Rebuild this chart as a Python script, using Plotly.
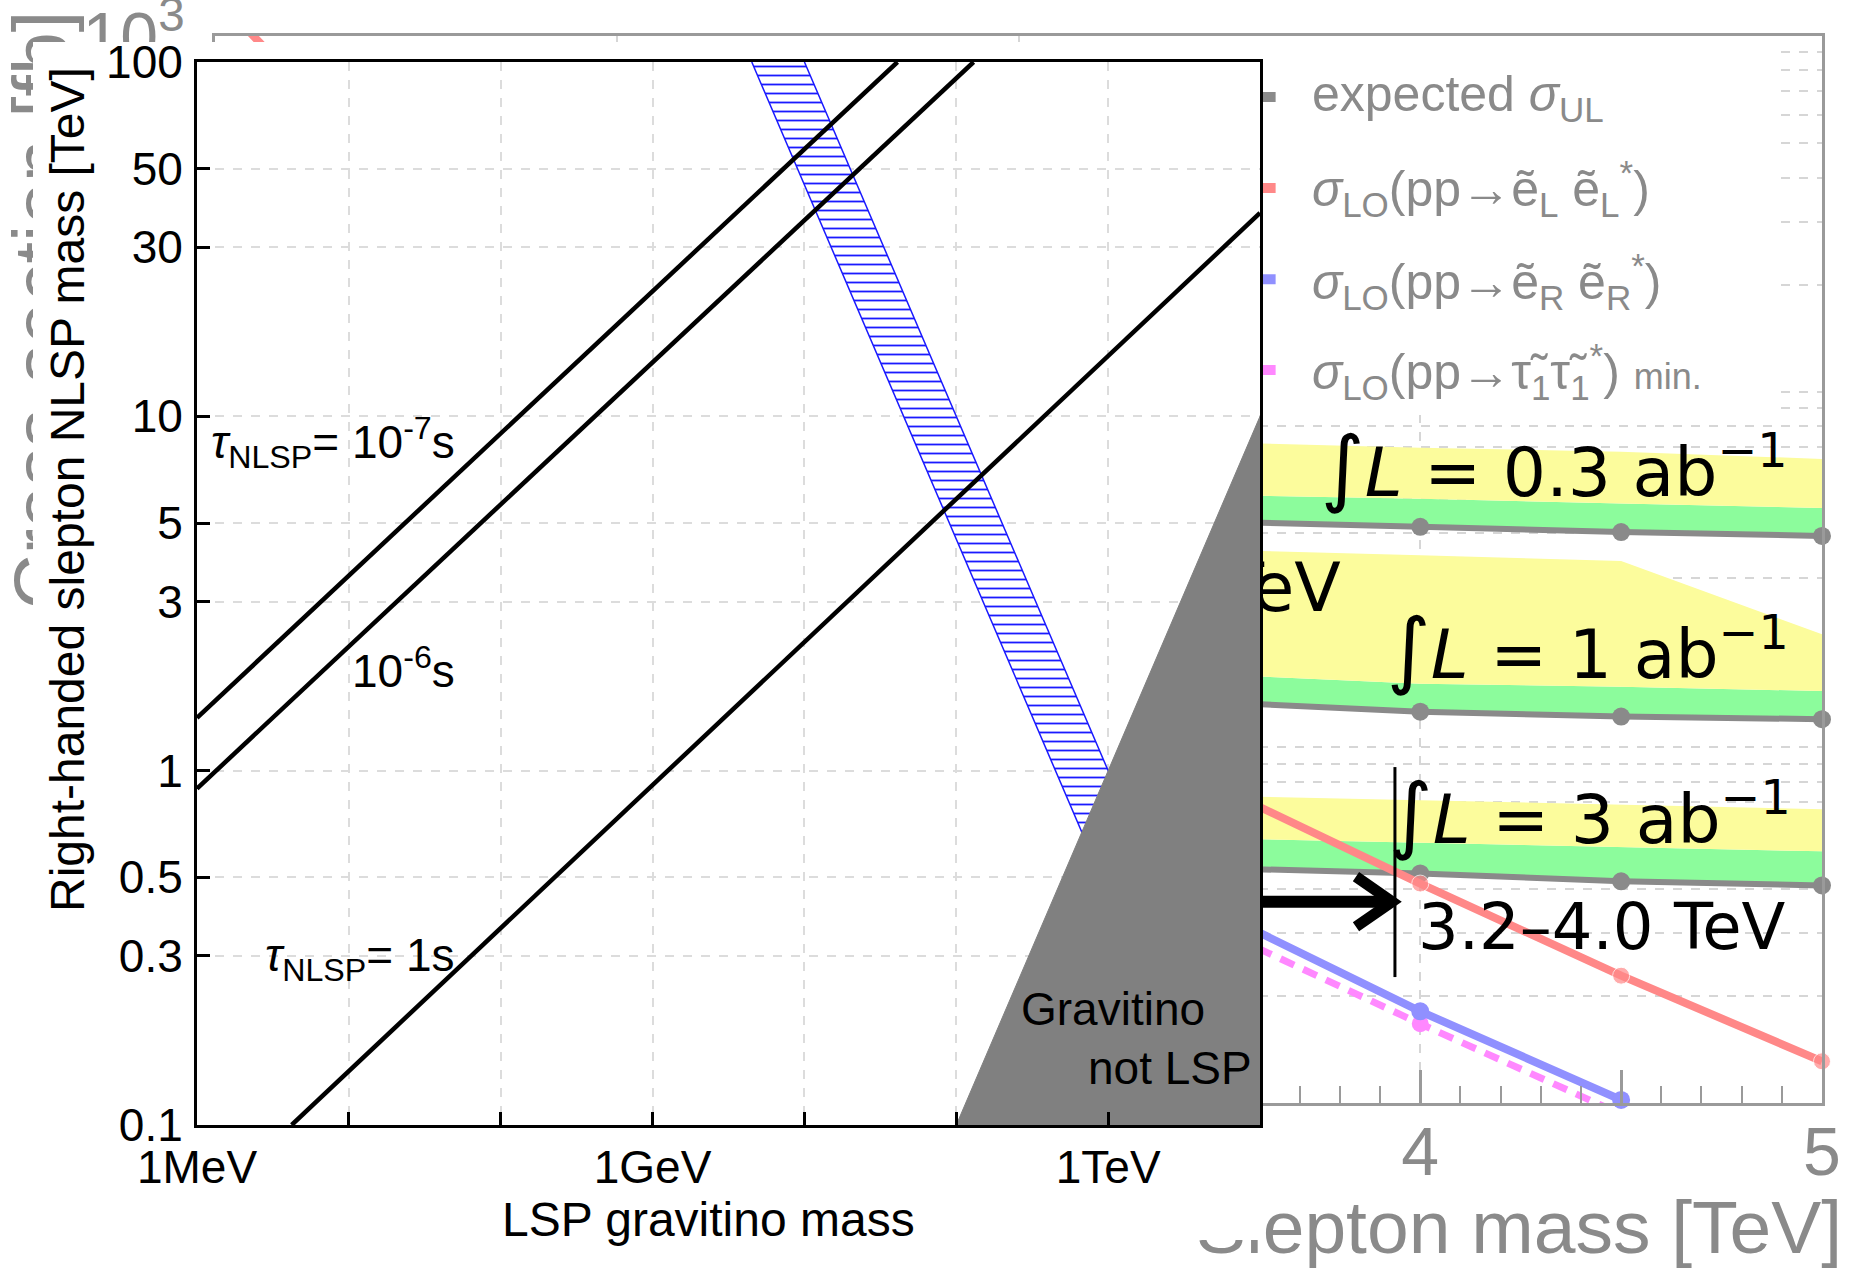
import plotly.graph_objects as go

W, H = 1852, 1269

# ---------------- cross-section panel (drawn behind) ----------------
slepton_mass = [1.0, 1.5, 2.0, 2.5, 3.0, 3.5, 4.0, 4.5, 5.0]            # TeV
xsec_eL = [1300, 330, 110, 42, 17.5, 7.7, 4.14, 2.28, 1.31]             # fb
slepton_mass_R = [1.0, 1.5, 2.0, 2.5, 3.0, 3.5, 4.0, 4.5]
xsec_eR = [430, 120, 40, 16, 7.0, 3.42, 1.81, 1.02]
xsec_stau_min = [385, 107, 36, 14.3, 6.25, 3.06, 1.67, 0.93]

ul_mass = [3.0, 3.5, 4.0, 4.5, 5.0]
ul_03 = [44.5, 43.2, 41.7, 40.3, 39.3]
ul_03_1s = [52.5, 51.2, 50.0, 48.5, 47.1]
ul_03_2s = [73.5, 72.0, 69.6, 67.8, 64.7]
ul_1 = [14.2, 13.4, 12.6, 12.2, 12.0]
ul_1_1s = [16.8, 16.0, 15.1, 14.8, 14.4]
ul_1_2s = [36.5, 35.9, 34.7, 33.4, 20.8]
ul_3 = [4.8, 4.57, 4.42, 4.2, 4.09]
ul_3_1s = [5.7, 5.55, 5.4, 5.25, 5.1]
ul_3_2s = [7.6, 7.3, 7.1, 6.9, 6.7]

limit_mass = [3.937, 3.937]
limit_xsec = [2.26, 8.8]
arrow_shaft_x = [3.3, 3.925]
arrow_shaft_y = [3.68, 3.68]
arrow_head_x = [3.84, 3.93, 3.84]
arrow_head_y = [4.33, 3.68, 3.13]

legend_panel_x = [3.3, 4.895, 4.895, 3.3]
legend_panel_y = [1000, 1000, 86, 86]
legend_key_x = [3.3, 3.64]
legend_key_y = [674, 374, 207, 115]

bg_xticks = [1, 2, 3, 4, 5]
bg_xticks_half = [1.5, 2.5, 3.5, 4.5]
bg_ygrid = [m * 10 ** e for e in range(3) for m in range(1, 10)] + [1000]
bg_ylabels = {1: "1", 10: "10", 100: "10<sup>2</sup>", 1000: "10<sup>3</sup>"}

# ---------------- gravitino / NLSP panel (front) ----------------
tau_m7_gravitino = [1e-3, 41]          # GeV
tau_m7_nlsp = [1.41, 100]              # TeV
tau_m6_gravitino = [1e-3, 130]
tau_m6_nlsp = [0.89, 100]
tau_1s_gravitino = [4.2e-3, 1e4]
tau_1s_nlsp = [0.1, 37.5]

band_nlsp = [100, 0.1]
band_gravitino_lo = [4.5, 4500]
band_gravitino_hi = [10, 10000]

not_lsp_gravitino = [100, 1e4, 1e4]
not_lsp_nlsp = [0.1, 10, 0.1]

fg_xticks = [1e-3, 1e-2, 1e-1, 1, 10, 100, 1e3, 1e4]
fg_xticktext = ["1MeV", "", "", "1GeV", "", "", "1TeV", ""]
fg_yticks = [0.1, 0.3, 0.5, 1, 3, 5, 10, 30, 50, 100]
fg_yticktext = ["0.1", "0.3", "0.5", "1", "3", "5", "10", "30", "50", "100"]

LIB = "Liberation Sans, Arial, sans-serif"
DJ = "DejaVu Sans, sans-serif"
GRAY_TXT = "#8a8a8a"
AX_GRAY = "#9a9a9a"
GRID_BG = "#d6d6d6"
RED = "#ff8888"
BLUE = "#9090ff"
MAGENTA = "#ff88ff"
UL_GRAY = "#8a8a8a"
YELLOW = "#fcfc9c"
GREEN = "#8cfc9c"

fig = go.Figure()

# legend panel hides the grid behind the legend entries
fig.add_trace(go.Scatter(x=legend_panel_x, y=legend_panel_y, fill="toself",
                         fillcolor="white", mode="lines", line=dict(width=0)))

# expected-limit bands
for med, s1, s2 in [(ul_03, ul_03_1s, ul_03_2s), (ul_1, ul_1_1s, ul_1_2s),
                    (ul_3, ul_3_1s, ul_3_2s)]:
    fig.add_trace(go.Scatter(x=ul_mass, y=med, mode="lines", line=dict(width=0)))
    fig.add_trace(go.Scatter(x=ul_mass, y=s1, mode="lines", line=dict(width=0),
                             fill="tonexty", fillcolor=GREEN))
    fig.add_trace(go.Scatter(x=ul_mass, y=s2, mode="lines", line=dict(width=0),
                             fill="tonexty", fillcolor=YELLOW))

for med in [ul_03, ul_1, ul_3]:
    fig.add_trace(go.Scatter(x=ul_mass, y=med, mode="lines+markers",
                             line=dict(color=UL_GRAY, width=6),
                             marker=dict(size=18, color=UL_GRAY), cliponaxis=False))

fig.add_trace(go.Scatter(x=slepton_mass_R, y=xsec_stau_min, mode="lines+markers",
                         line=dict(color=MAGENTA, width=7, dash="15px,10px"),
                         marker=dict(size=17, color=MAGENTA), cliponaxis=True))
fig.add_trace(go.Scatter(x=slepton_mass_R, y=xsec_eR, mode="lines+markers",
                         line=dict(color=BLUE, width=8),
                         marker=dict(size=18, color=BLUE), cliponaxis=False))
fig.add_trace(go.Scatter(x=slepton_mass, y=xsec_eL, mode="lines+markers",
                         line=dict(color=RED, width=8),
                         marker=dict(size=[17 if 1 <= v <= 1000 else 0 for v in xsec_eL],
                                     color=RED),
                         cliponaxis=False))

# legend keys
for ky, kc in zip(legend_key_y, [UL_GRAY, RED, BLUE, MAGENTA]):
    fig.add_trace(go.Scatter(x=legend_key_x, y=[ky, ky], mode="lines",
                             line=dict(color=kc, width=10)))

# mass-limit marker and arrow
fig.add_trace(go.Scatter(x=limit_mass, y=limit_xsec, mode="lines",
                         line=dict(color="black", width=3)))
fig.add_trace(go.Scatter(x=arrow_shaft_x, y=arrow_shaft_y, mode="lines",
                         line=dict(color="black", width=12)))
fig.add_trace(go.Scatter(x=arrow_head_x, y=arrow_head_y, mode="lines",
                         line=dict(color="black", width=11), cliponaxis=False))

# label partly hidden behind the front panel
fig.add_trace(go.Scatter(x=[3.655], y=[27.0], mode="text", text=["TeV"],
                         textposition="middle center", cliponaxis=False,
                         textfont=dict(family=DJ, size=68, color="black")))

# helper traces registering the overlay axes
fig.add_trace(go.Scatter(x=[None], y=[None], xaxis="x4", yaxis="y"))
fig.add_trace(go.Scatter(x=[None], y=[None], xaxis="x5", yaxis="y"))
fig.add_trace(go.Scatter(x=[None], y=[None], xaxis="x", yaxis="y4"))

# white sheet carrying the front panel
fig.add_trace(go.Scatter(x=[None], y=[None], xaxis="x2", yaxis="y2"))

# ---- front panel traces ----
fg = dict(xaxis="x3", yaxis="y3")
fig.add_trace(go.Scatter(x=band_gravitino_lo + band_gravitino_hi[::-1],
                         y=band_nlsp + band_nlsp[::-1],
                         fill="toself", fillcolor="white", mode="lines",
                         line=dict(color="#1a1aff", width=1.5),
                         fillpattern=dict(shape="-", fgcolor="#1a1aff", bgcolor="white",
                                          size=9, solidity=0.2),
                         **fg))
for gx, ny in [(tau_m7_gravitino, tau_m7_nlsp), (tau_m6_gravitino, tau_m6_nlsp),
               (tau_1s_gravitino, tau_1s_nlsp)]:
    fig.add_trace(go.Scatter(x=gx, y=ny, mode="lines",
                             line=dict(color="black", width=4.5), **fg))
fig.add_trace(go.Scatter(x=not_lsp_gravitino, y=not_lsp_nlsp, fill="toself",
                         fillcolor="#808080", mode="lines",
                         line=dict(color="#808080", width=1), **fg))

for tr in fig.data:
    tr.showlegend = False
    tr.hoverinfo = "skip"


def px(xp):
    return xp / W


def py(yp):
    return 1 - yp / H


annotations = [
    # front panel titles and labels
    dict(text="Right-handed slepton NLSP mass [TeV]", x=px(67), y=py(490), textangle=-90,
         font=dict(family=LIB, size=48, color="black")),
    dict(text="LSP gravitino mass", x=px(708), y=py(1219),
         font=dict(family=LIB, size=48, color="black")),
    dict(text="<i>τ</i><sub>NLSP</sub>= 10<sup>-7</sup>s", x=px(457), y=py(443),
         xanchor="right", font=dict(family=LIB, size=46, color="black")),
    dict(text="10<sup>-6</sup>s", x=px(457), y=py(668), xanchor="right",
         font=dict(family=LIB, size=46, color="black")),
    dict(text="<i>τ</i><sub>NLSP</sub>= 1s", x=px(457), y=py(958), xanchor="right",
         font=dict(family=LIB, size=46, color="black")),
    dict(text="Gravitino", x=px(1113), y=py(1009),
         font=dict(family=LIB, size=46, color="black")),
    dict(text="not LSP", x=px(1254), y=py(1068), xanchor="right",
         font=dict(family=LIB, size=46, color="black")),
    # legend of the cross-section panel
    dict(text="expected <i>σ</i><sub>UL</sub>", x=px(1310), y=py(97), xanchor="left",
         font=dict(family=LIB, size=50, color=GRAY_TXT)),
    dict(text="<i>σ</i><sub>LO</sub>(pp→ẽ<sub>L</sub> ẽ<sub>L</sub><sup>*</sup>)",
         x=px(1310), y=py(188), xanchor="left",
         font=dict(family=LIB, size=50, color=GRAY_TXT)),
    dict(text="<i>σ</i><sub>LO</sub>(pp→ẽ<sub>R</sub> ẽ<sub>R</sub><sup>*</sup>)",
         x=px(1310), y=py(281), xanchor="left",
         font=dict(family=LIB, size=50, color=GRAY_TXT)),
    dict(text="<i>σ</i><sub>LO</sub>(pp→τ\u0303<sub>1</sub>τ\u0303<sub>1</sub><sup>*</sup>) "
              "<span style=\"font-size:36px\">min.</span>",
         x=px(1310), y=py(371), xanchor="left",
         font=dict(family=LIB, size=50, color=GRAY_TXT)),
    # luminosity labels and reach
    dict(text="<span style=\"font-size:84px\">∫</span><i>L</i> = 0.3 ab<sup>−1</sup>",
         x=px(1554), y=py(467), font=dict(family=DJ, size=68, color="black")),
    dict(text="<span style=\"font-size:84px\">∫</span><i>L</i> = 1 ab<sup>−1</sup>",
         x=px(1588), y=py(649), font=dict(family=DJ, size=68, color="black")),
    dict(text="<span style=\"font-size:84px\">∫</span><i>L</i> = 3 ab<sup>−1</sup>",
         x=px(1590), y=py(814), font=dict(family=DJ, size=68, color="black")),
    dict(text="3.2–4.0 TeV", x=px(1602), y=py(927),
         font=dict(family=DJ, size=64, color="black")),
]
for a in annotations:
    a.setdefault("xref", "paper")
    a.setdefault("yref", "paper")
    a.setdefault("showarrow", False)
    a.setdefault("xanchor", "center")
    a.setdefault("yanchor", "middle")

fig.update_layout(
    template="none",
    width=W, height=H, autosize=False,
    margin=dict(l=0, r=0, t=0, b=0, pad=0),
    paper_bgcolor="white", plot_bgcolor="white",
    showlegend=False, hovermode=False,
    annotations=annotations,
    # cross-section panel axes
    xaxis=dict(domain=[215 / W, 1822 / W], anchor="y", range=[1, 5],
               tickvals=bg_xticks, ticktext=[str(v) for v in bg_xticks],
               ticks="inside", ticklen=33, tickwidth=2.5, tickcolor=AX_GRAY,
               showline=True, linecolor=AX_GRAY, linewidth=2.5, mirror=True,
               showgrid=True, gridcolor=GRID_BG, griddash="dash", gridwidth=2,
               zeroline=False, automargin=False, ticklabelstandoff=-12,
               ticklabeloverflow="allow",
               tickfont=dict(family=LIB, size=68, color=GRAY_TXT),
               minor=dict(dtick=0.1, ticks="inside", ticklen=17, tickwidth=2,
                          tickcolor=AX_GRAY, showgrid=False)),
    yaxis=dict(domain=[1 - 1103 / H, 1 - 36 / H], anchor="x", type="log", range=[0, 3],
               tickvals=bg_ygrid, ticktext=[bg_ylabels.get(v, "") for v in bg_ygrid],
               ticks="", showline=True, linecolor=AX_GRAY, linewidth=2.5, mirror=True,
               showgrid=True, gridcolor=GRID_BG, griddash="dash", gridwidth=2,
               zeroline=False, automargin=False, ticklabelstandoff=14,
               ticklabeloverflow="allow",
               tickfont=dict(family=LIB, size=68, color=GRAY_TXT)),
    xaxis4=dict(overlaying="x", anchor="y", side="bottom", range=[1, 5],
                tickvals=bg_xticks_half, ticks="inside", ticklen=33, tickwidth=2.5,
                tickcolor=AX_GRAY, showticklabels=False, showgrid=False,
                showline=False, zeroline=False, automargin=False),
    # axis titles of the cross-section panel, kept in its own layer
    xaxis5=dict(overlaying="x", anchor="free", position=1 - 1177 / H, side="bottom",
                range=[1, 5], tickvals=[4.246], ticktext=["Slepton mass [TeV]"],
                ticks="", showgrid=False, showline=False, zeroline=False,
                automargin=False, ticklabeloverflow="allow",
                tickfont=dict(family=LIB, size=75, color=GRAY_TXT)),
    yaxis4=dict(overlaying="y", anchor="free", position=83 / W, side="left",
                range=[0, 1], tickvals=[0.732], ticktext=["Cross-section [fb]"],
                tickangle=-90, ticks="", showgrid=False, showline=False,
                zeroline=False, automargin=False, ticklabeloverflow="allow",
                tickfont=dict(family=LIB, size=77, color=GRAY_TXT)),
    # white sheet of the front panel
    xaxis2=dict(domain=[33 / W, 1261 / W], anchor="y2", range=[0, 1], showgrid=False,
                showticklabels=False, showline=False, zeroline=False, ticks="",
                automargin=False),
    yaxis2=dict(domain=[1 - 1240 / H, 1 - 42 / H], anchor="x2", range=[0, 1],
                showgrid=False, showticklabels=False, showline=False, zeroline=False,
                ticks="", automargin=False),
    # front panel axes
    xaxis3=dict(domain=[197 / W, 1260 / W], anchor="y3", type="log", range=[-3, 4],
                tickvals=fg_xticks, ticktext=fg_xticktext,
                ticks="inside", ticklen=13, tickwidth=2.5, tickcolor="black",
                showline=True, linecolor="black", linewidth=3, mirror=True,
                showgrid=True, gridcolor="#dcdcdc", griddash="dash", gridwidth=2,
                zeroline=False, automargin=False, ticklabelstandoff=0,
                tickfont=dict(family=LIB, size=46, color="black")),
    yaxis3=dict(domain=[1 - 1125 / H, 1 - 62 / H], anchor="x3", type="log", range=[-1, 2],
                tickvals=fg_yticks, ticktext=fg_yticktext,
                ticks="inside", ticklen=13, tickwidth=2.5, tickcolor="black",
                showline=True, linecolor="black", linewidth=3, mirror=True,
                showgrid=True, gridcolor="#dcdcdc", griddash="dash", gridwidth=2,
                zeroline=False, automargin=False, ticklabelstandoff=2,
                tickfont=dict(family=LIB, size=46, color="black")),
)

fig.write_html("out.html")
